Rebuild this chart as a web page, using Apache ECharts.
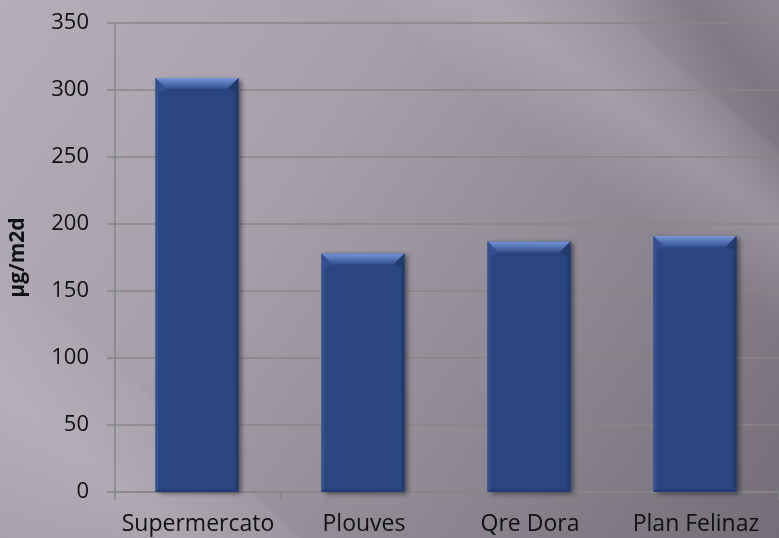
<!DOCTYPE html>
<html>
<head>
<meta charset="utf-8">
<script src="https://cdn.jsdelivr.net/npm/echarts@6/dist/echarts.min.js"></script>
<style>
  html, body { margin: 0; padding: 0; }
  #chart { width: 779px; height: 538px; }
</style>
</head>
<body>
<div id="chart"></div>
<script>
// Sampling sites and deposition values
const sites = ['Supermercato', 'Plouves', 'Qre Dora', 'Plan Felinaz'];
const deposition = [309, 178, 187, 191];
const yAxisTitle = 'µg/m2d';

const FONT = '"Open Sans", "Liberation Sans", sans-serif';
const GRID_COLOR = '#878784';

// Beveled bar: flat face with a light top chamfer and thin side/bottom edges
function renderBevelBar(params, api) {
  const idx = api.value(0);
  const val = api.value(1);
  const top = api.coord([idx, val]);
  const base = api.coord([idx, 0]);
  const w = api.size([1, 0])[0] * 0.5;
  const x0 = top[0] - w / 2 - 1, x1 = top[0] + w / 2 - 1;
  const y0 = top[1], yb = base[1];
  const b = 11, s = 3;
  return {
    type: 'group',
    children: [
      {
        type: 'rect',
        shape: { x: x0, y: y0, width: x1 - x0, height: yb - y0 },
        style: {
          fill: '#2a457f',
          shadowBlur: 5, shadowOffsetX: 3, shadowOffsetY: 2,
          shadowColor: 'rgba(20,20,30,0.55)'
        }
      },
      {
        type: 'polygon',
        shape: { points: [[x0, y0], [x1, y0], [x1 - b, y0 + b], [x0 + b, y0 + b]] },
        style: {
          fill: new echarts.graphic.LinearGradient(0, 0, 0, 1, [
            { offset: 0, color: '#7896d3' },
            { offset: 0.45, color: '#5877b9' },
            { offset: 1, color: '#34508e' }
          ])
        }
      },
      {
        type: 'polygon',
        shape: { points: [[x0, y0], [x0 + b, y0 + b], [x0 + s, y0 + b + 3], [x0 + s, yb - s], [x0, yb]] },
        style: { fill: '#34508e' }
      },
      {
        type: 'polygon',
        shape: { points: [[x1, y0], [x1 - b, y0 + b], [x1 - s, y0 + b + 3], [x1 - s, yb - s], [x1, yb]] },
        style: { fill: '#233a6c' }
      },
      {
        type: 'polygon',
        shape: { points: [[x0, yb], [x0 + s, yb - s], [x1 - s, yb - s], [x1, yb]] },
        style: { fill: '#243d72' }
      }
    ]
  };
}

// Soft-edged backdrop band: a gradient across the band fading out at both edges
function softBand(points, from, to, color, peak) {
  return {
    type: 'polygon', silent: true, z: -10,
    shape: { points: points },
    style: {
      fill: new echarts.graphic.LinearGradient(from[0], from[1], to[0], to[1], [
        { offset: 0, color: 'rgba(' + color + ',0)' },
        { offset: 0.5, color: 'rgba(' + color + ',' + peak + ')' },
        { offset: 1, color: 'rgba(' + color + ',0)' }
      ], true)
    }
  };
}

const chart = echarts.init(document.getElementById('chart'), null, { renderer: 'canvas' });

chart.setOption({
  animation: false,
  backgroundColor: new echarts.graphic.LinearGradient(0, 0, 1, 1, [
    { offset: 0, color: '#b4aeb9' },
    { offset: 0.35, color: '#a6a0ab' },
    { offset: 0.7, color: '#8b868f' },
    { offset: 1, color: '#726d76' }
  ]),
  graphic: [
    // darker diagonal streak in the upper right
    softBand([[520, 0], [779, 0], [779, 260], [779, 300]], [640, 40], [740, -40], '95,90,100', 0.35),
    // lighter diagonal streak from the upper middle down to the right edge
    softBand([[380, 0], [600, 0], [779, 150], [779, 360]], [560, 160], [660, 30], '200,194,206', 0.3),
    // light patch lower left
    softBand([[0, 260], [0, 538], [300, 538]], [0, 540], [150, 360], '205,200,210', 0.3)
  ],
  grid: { left: 111, top: 23, width: 672, bottom: 46, containLabel: false },
  xAxis: {
    type: 'category',
    data: sites,
    axisLine: { lineStyle: { color: GRID_COLOR, width: 1.5 } },
    axisTick: { show: true, length: 8, lineStyle: { color: GRID_COLOR, width: 1.5 } },
    axisLabel: { color: '#111', fontFamily: FONT, fontSize: 23, margin: 21, interval: 0 },
    splitLine: { show: false }
  },
  yAxis: {
    type: 'value',
    min: 0, max: 350, interval: 50,
    name: yAxisTitle,
    nameLocation: 'middle',
    nameRotate: 90,
    nameGap: 86,
    nameTextStyle: { color: '#111', fontFamily: FONT, fontSize: 21, fontWeight: 'bold' },
    axisLine: { show: true, lineStyle: { color: GRID_COLOR, width: 1.5 } },
    axisTick: { show: true, length: 8, lineStyle: { color: GRID_COLOR, width: 1.5 } },
    axisLabel: { color: '#111', fontFamily: FONT, fontSize: 22, margin: 26 },
    splitLine: { lineStyle: { color: GRID_COLOR, width: 1.5 } }
  },
  series: [{
    type: 'custom',
    renderItem: renderBevelBar,
    encode: { x: 0, y: 1 },
    data: deposition.map((v, i) => [i, v]),
    z: 5
  }]
});
</script>
</body>
</html>
